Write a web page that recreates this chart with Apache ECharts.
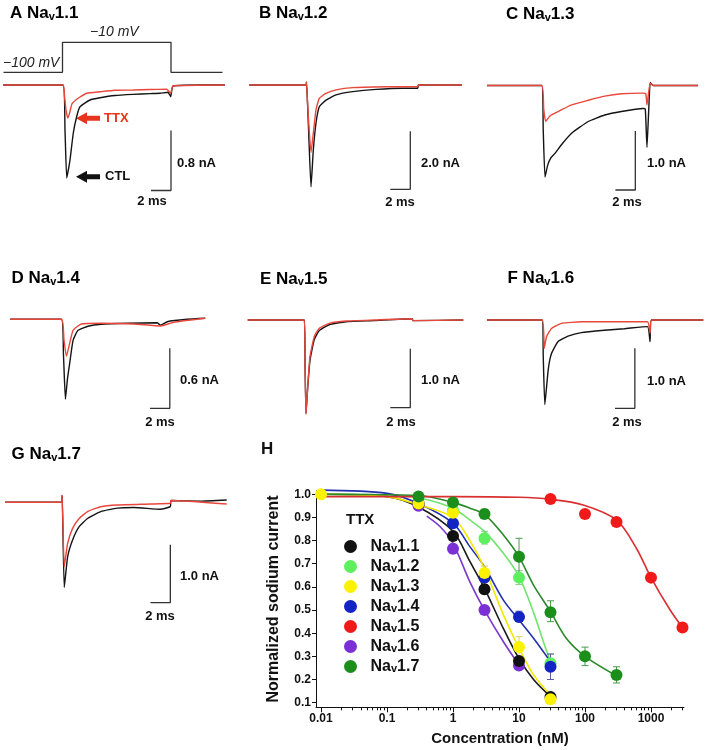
<!DOCTYPE html>
<html><head><meta charset="utf-8">
<script src="https://cdn.jsdelivr.net/npm/echarts@6/dist/echarts.min.js"></script>
<style>html,body{margin:0;padding:0;background:#fff}#c{width:709px;height:750px}</style>
</head><body><div id="c"></div>
<script>
const FONT = '"Liberation Sans", Arial, Helvetica, sans-serif';

// ---------- Panels A-G: current traces (time in ms from step onset, current in nA) ----------
const panelLetters = ['A','B','C','D','E','F','G'];
const panelIsoforms = ['1.1','1.2','1.3','1.4','1.5','1.6','1.7'];
const scaleNa = [0.8, 2.0, 1.0, 0.6, 1.0, 1.0, 1.0];
const scaleMs = 2;

const ctlA = [[-5.95,0],[0.05,0],[0.25,-0.6],[0.42,-1.24],[0.6,-1.12],[0.75,-1.0],[1.08,-0.64],[1.42,-0.42],[1.75,-0.29],[2.75,-0.2],[3.75,-0.17],[5.25,-0.14],[7.05,-0.125],[8.75,-0.115],[9.75,-0.11],[10.55,-0.097],[10.82,-0.156],[11.05,-0.013],[13.75,0],[16.25,0]];
const ttxA = [[-5.95,0],[0.05,0],[0.2,-0.15],[0.35,-0.33],[0.52,-0.44],[0.7,-0.38],[0.95,-0.25],[1.42,-0.19],[1.75,-0.16],[2.42,-0.11],[3.75,-0.09],[5.25,-0.07],[7.05,-0.067],[8.75,-0.06],[10.42,-0.057],[10.82,-0.11],[11.05,-0.013],[16.25,0]];
const ctlB = [[-5.67,0],[0,0],[0.05,0.1],[0.15,-0.6],[0.27,-1.66],[0.5,-3.51],[0.73,-2.25],[1.0,-1.31],[1.33,-0.75],[2.0,-0.52],[3.0,-0.34],[4.67,-0.23],[7.0,-0.15],[9.67,-0.11],[11.17,-0.11],[11.25,0],[15.6,0]];
const ttxB = [[-5.67,0],[0,0],[0.05,0.1],[0.15,-0.6],[0.27,-1.3],[0.5,-2.33],[0.73,-1.66],[1.0,-0.86],[1.33,-0.46],[2.0,-0.29],[3.0,-0.17],[4.67,-0.09],[8.0,-0.06],[11.17,-0.05],[11.25,0],[15.6,0]];
const ctlC = [[-5.5,0],[0,0],[0.15,-0.75],[0.33,-1.55],[0.6,-1.35],[0.9,-1.23],[1.33,-1.15],[2.0,-1.0],[3.0,-0.81],[4.67,-0.61],[6.33,-0.5],[8.0,-0.44],[10.17,-0.39],[10.4,-0.4],[10.57,-1.05],[10.75,-0.4],[10.9,0.05],[11.2,0],[15.7,0]];
const ttxC = [[-5.5,0],[0,0],[0.2,-0.4],[0.4,-0.61],[0.8,-0.52],[1.33,-0.47],[3.0,-0.33],[4.67,-0.25],[6.33,-0.18],[8.0,-0.14],[10.17,-0.13],[10.45,-0.14],[10.57,-0.33],[10.75,-0.1],[10.9,0.04],[11.2,0],[15.7,0]];
const ctlD = [[-5.17,0],[0,0],[0.2,-0.35],[0.4,-0.8],[0.6,-0.6],[0.83,-0.44],[1.17,-0.21],[1.67,-0.11],[2.67,-0.07],[4.0,-0.05],[6.67,-0.04],[9.67,-0.035],[10.0,-0.06],[10.67,-0.024],[12.67,0],[14.5,0.01]];
const ttxD = [[-5.17,0],[0,0],[0.25,-0.2],[0.5,-0.37],[0.83,-0.24],[1.17,-0.11],[2.0,-0.047],[4.0,-0.04],[7.33,-0.047],[10.0,-0.067],[11.33,-0.03],[14.5,0.01]];
const ctlE = [[-5.66,0],[0,0],[0.08,-0.8],[0.17,-1.58],[0.34,-1.15],[0.57,-0.68],[1.0,-0.33],[1.5,-0.18],[2.5,-0.08],[4.17,-0.03],[7.0,-0.01],[10.8,0.02],[10.85,-0.01],[15.9,0]];
const ttxE = [[-5.66,0],[0,0],[0.08,-0.8],[0.17,-1.6],[0.34,-1.13],[0.57,-0.62],[1.0,-0.28],[1.5,-0.14],[2.5,-0.056],[4.17,-0.017],[7.0,0],[10.8,0.02],[10.85,-0.01],[15.9,0]];
const ctlF = [[-5.57,0],[0,0],[0.1,-0.6],[0.26,-1.41],[0.6,-0.83],[0.93,-0.56],[1.6,-0.36],[2.6,-0.27],[3.93,-0.21],[6.26,-0.17],[8.26,-0.145],[10.6,-0.11],[10.86,-0.36],[11.0,0],[16.23,0]];
const ttxF = [[-5.57,0],[0,0],[0.2,-0.47],[0.43,-0.28],[0.93,-0.14],[1.93,-0.056],[4.0,-0.03],[10.6,-0.03],[10.86,-0.22],[11.0,0],[16.23,0]];
const ctlG = [[-5.67,0],[0,0],[0.05,0.12],[0.26,-1.47],[0.6,-0.94],[1.1,-0.65],[1.76,-0.42],[2.6,-0.28],[3.93,-0.16],[5.6,-0.1],[7.26,-0.09],[9.93,-0.12],[10.93,-0.075],[11.0,0.03],[13.93,0.02],[16.6,0.04]];
const ttxG = [[-5.67,0],[0,0],[0.05,0.12],[0.26,-1.11],[0.6,-0.71],[1.1,-0.45],[1.76,-0.28],[2.6,-0.16],[3.93,-0.076],[5.6,-0.047],[8.93,-0.03],[10.93,-0.017],[11.0,0.03],[16.6,-0.03]];
const ctlTraces = [ctlA, ctlB, ctlC, ctlD, ctlE, ctlF, ctlG];
const ttxTraces = [ttxA, ttxB, ttxC, ttxD, ttxE, ttxF, ttxG];

// voltage protocol (panel A)
const stepTimes  = [-5.9, 0, 0, 10.85, 10.85, 16.0];
const stepLevels = [-100, -100, -10, -10, -100, -100];
const stepLabels = ['\u2212100 mV', '\u221210 mV'];

// ---------- Panel H: concentration-response ----------
const isoforms = ['Nav1.1','Nav1.2','Nav1.3','Nav1.4','Nav1.5','Nav1.6','Nav1.7'];
const conc11 = [0.3, 1, 3, 10, 30];          const val11 = [0.96, 0.82, 0.59, 0.28, 0.125];
const conc12 = [1, 3, 10, 30];               const val12 = [0.93, 0.81, 0.64, 0.27];
const conc13 = [0.01, 0.3, 1, 3, 10, 30];    const val13 = [1.0, 0.96, 0.92, 0.66, 0.34, 0.115];
const conc14 = [0.3, 1, 3, 10, 30];          const val14 = [0.96, 0.875, 0.64, 0.47, 0.255];
const conc15 = [30, 100, 300, 1000, 3000];   const val15 = [0.98, 0.915, 0.88, 0.64, 0.425];
const conc16 = [0.3, 1, 3, 10];              const val16 = [0.95, 0.765, 0.50, 0.26];
const conc17 = [0.3, 1, 3, 10, 30, 100, 300];const val17 = [0.99, 0.965, 0.915, 0.73, 0.49, 0.30, 0.22];
// error bars: [concentration, low, high]
const err11 = [[3, 0.57, 0.61], [10, 0.27, 0.295]];
const err12 = [[3, 0.785, 0.84], [10, 0.61, 0.67], [30, 0.24, 0.31]];
const err13 = [[3, 0.64, 0.69], [10, 0.30, 0.385]];
const err14 = [[3, 0.62, 0.66], [10, 0.45, 0.495], [30, 0.20, 0.31]];
const err15 = [];
const err16 = [[1, 0.745, 0.785], [3, 0.49, 0.51], [10, 0.25, 0.27]];
const err17 = [[3, 0.90, 0.935], [10, 0.65, 0.81], [30, 0.45, 0.54], [100, 0.26, 0.34], [300, 0.185, 0.255]];
// fitted curves
const fitC11 = [0.01, 0.1, 0.3, 1, 1.8, 3, 5.8, 10, 16.6, 30];            const fitV11 = [1.0, 0.99, 0.945, 0.84, 0.71, 0.594, 0.42, 0.29, 0.2, 0.126];
const fitC12 = [0.01, 0.1, 0.3, 1, 1.8, 3, 5.8, 10, 16.6, 23.4, 30];      const fitV12 = [1.0, 0.997, 0.985, 0.94, 0.889, 0.84, 0.745, 0.645, 0.49, 0.363, 0.277];
const fitC13 = [0.01, 0.1, 0.3, 1, 1.8, 3, 5.8, 10, 16.6, 30];            const fitV13 = [1.0, 0.99, 0.955, 0.9, 0.8, 0.68, 0.479, 0.335, 0.22, 0.133];
const fitC14 = [0.01, 0.1, 0.3, 1, 1.8, 3, 5.8, 10, 16.6, 30];            const fitV14 = [1.018, 1.004, 0.96, 0.875, 0.774, 0.687, 0.543, 0.457, 0.378, 0.277];
const fitC15 = [0.01, 1, 10, 30, 94, 300, 600, 1000, 1950, 3000];        const fitV15 = [0.99, 0.99, 0.987, 0.978, 0.954, 0.889, 0.767, 0.64, 0.5, 0.424];
const fitC16 = [0.4, 0.64, 1, 1.8, 3, 5.8, 10];                           const fitV16 = [0.906, 0.86, 0.788, 0.622, 0.5, 0.363, 0.263];
const fitC17 = [0.01, 0.3, 1, 1.8, 3, 5.8, 10, 16.6, 30, 52, 100, 300];  const fitV17 = [1.0, 0.995, 0.965, 0.94, 0.913, 0.824, 0.73, 0.608, 0.493, 0.378, 0.3, 0.216];

const xTickValues = [0.01, 0.1, 1, 10, 100, 1000];
const xTickLabels = ['0.01', '0.1', '1', '10', '100', '1000'];
const yTickValues = [0.1, 0.2, 0.3, 0.4, 0.5, 0.6, 0.7, 0.8, 0.9, 1.0];
const yTitle = 'Normalized sodium current';
const xTitle = 'Concentration (nM)';

// ---------- styles / layout ----------
const CTL_COLOR = '#141414', TTX_COLOR = '#e8473a', BAR_COLOR = '#333';
const ptColors  = ['#111111', '#5def5d', '#fbf200', '#1424c4', '#f01a1a', '#7a30d4', '#1c8e1c'];
const lnColors  = ['#1a1a1a', '#6fe46f', '#f2e800', '#2330b0', '#d83030', '#7a38cc', '#2a8a2a'];
const errColors = ['#444', '#7fcf7f', '#d8d060', '#5a5a9e', '#d05050', '#8a68c0', '#4a9a4a'];

const layout = [
  {onset: 62.5,  base: 85,    k: 75,  bar: [171, 190.5],   na: [177, 163],   ms: [152, 201.7], title: [10, 17.3]},
  {onset: 306,   base: 85,    k: 29,  bar: [410.3, 189.3], na: [421, 163],   ms: [400, 202],   title: [259, 17.3]},
  {onset: 542,   base: 85.5,  k: 59,  bar: [636, 190],     na: [647, 163],   ms: [627, 202],   title: [506, 18.3]},
  {onset: 60,    base: 319.3, k: 100, bar: [169.3, 408.3], na: [180, 380.7], ms: [160, 422.7], title: [11.5, 282.3]},
  {onset: 304.3, base: 320,   k: 59,  bar: [410.3, 407.7], na: [421, 380.7], ms: [401, 422.7], title: [260, 282.7]},
  {onset: 542.7, base: 320,   k: 60,  bar: [636, 408.3],   na: [647, 381.7], ms: [627, 422.7], title: [507.5, 282.3]},
  {onset: 60.7,  base: 502.3, k: 58,  bar: [170, 602.7],   na: [180, 576.7], ms: [160, 616.7], title: [11.5, 458]}
];
const PX_PER_MS = 10;

const grids = [], xAxes = [], yAxes = [], series = [], graphics = [];

const richTitle = {
  t: {fontFamily: FONT, fontSize: 17, fontWeight: 'bold', color: '#111', lineHeight: 22, verticalAlign: 'bottom'},
  s: {fontFamily: FONT, fontSize: 11, fontWeight: 'bold', color: '#111', lineHeight: 10, verticalAlign: 'bottom'}
};

layout.forEach((L, i) => {
  const left = L.onset - 62, width = 230, top = L.base - 25, height = 135;
  const xmin = -62 / PX_PER_MS;
  grids.push({left, top, width, height});
  xAxes.push({type: 'value', gridIndex: i, min: xmin, max: xmin + width / PX_PER_MS, show: false});
  yAxes.push({type: 'value', gridIndex: i, min: -(height - 25) / L.k, max: 25 / L.k, show: false});
  series.push({type: 'line', xAxisIndex: i, yAxisIndex: i, data: ctlTraces[i], symbol: 'none', clip: false, smooth: 0.15,
               lineStyle: {color: CTL_COLOR, width: 1.4}, z: 2, silent: true});
  series.push({type: 'line', xAxisIndex: i, yAxisIndex: i, data: ttxTraces[i], symbol: 'none', clip: false, smooth: 0.15,
               lineStyle: {color: TTX_COLOR, width: 1.4}, z: 3, silent: true});
  // scale bar, in data units (2 ms, scaleNa nA)
  const t1 = (L.bar[0] - L.onset) / PX_PER_MS, i1 = -(L.bar[1] - L.base) / L.k;
  series.push({type: 'line', xAxisIndex: i, yAxisIndex: i, symbol: 'none', clip: false, silent: true,
               data: [[t1 - scaleMs, i1], [t1, i1], [t1, i1 + scaleNa[i]]],
               lineStyle: {color: BAR_COLOR, width: 1.3}});
  graphics.push({type: 'text', x: L.na[0], y: L.na[1], style: {text: scaleNa[i].toFixed(1) + ' nA', font: 'bold 13px ' + FONT, fill: '#111', verticalAlign: 'middle'}});
  graphics.push({type: 'text', x: L.ms[0], y: L.ms[1], style: {text: scaleMs + ' ms', font: 'bold 13px ' + FONT, fill: '#111', align: 'center', verticalAlign: 'middle'}});
  graphics.push({type: 'text', x: L.title[0], y: L.title[1] - 17, style: {
    text: '{t|' + panelLetters[i] + ' Na}{s|v}{t|' + panelIsoforms[i] + '}', rich: richTitle, verticalAlign: 'top'}});
});

// voltage step grid (index 7)
{
  const L = layout[0];
  const left = L.onset - 62, width = 230, xmin = -62 / PX_PER_MS;
  grids.push({left, top: 37.3, width, height: 40});
  xAxes.push({type: 'value', gridIndex: 7, min: xmin, max: xmin + width / PX_PER_MS, show: false});
  yAxes.push({type: 'value', gridIndex: 7, min: -115, max: 5, show: false});
  series.push({type: 'line', xAxisIndex: 7, yAxisIndex: 7, symbol: 'none', clip: false, silent: true,
               data: stepTimes.map((t, j) => [t, stepLevels[j]]), lineStyle: {color: '#333', width: 1.3}});
  graphics.push({type: 'text', x: 3, y: 63, style: {text: stepLabels[0], font: 'italic 14px ' + FONT, fill: '#222', verticalAlign: 'middle'}});
  graphics.push({type: 'text', x: 90, y: 32, style: {text: stepLabels[1], font: 'italic 14px ' + FONT, fill: '#222', verticalAlign: 'middle'}});
  // TTX / CTL arrows
  const arrow = (tipX, y, color) => ({type: 'polygon', shape: {points: [[tipX, y], [tipX + 11, y - 6], [tipX + 11, y - 2.5], [tipX + 24, y - 2.5], [tipX + 24, y + 2.5], [tipX + 11, y + 2.5], [tipX + 11, y + 6]]}, style: {fill: color}});
  graphics.push(arrow(76, 118.3, '#e8341c'));
  graphics.push(arrow(76, 176.7, '#111'));
  graphics.push({type: 'text', x: 104, y: 118.3, style: {text: 'TTX', font: 'bold 13px ' + FONT, fill: '#e8341c', verticalAlign: 'middle'}});
  graphics.push({type: 'text', x: 105, y: 176.7, style: {text: 'CTL', font: 'bold 13px ' + FONT, fill: '#111', verticalAlign: 'middle'}});
}

// ---------- Panel H (grid 8, xAxis 8 major + 9 minor, yAxis 8) ----------
const minorMult = [2, 3, 4, 5, 6, 7, 8, 9];
const xMinor = [];
for (let d = -2; d <= 3; d++) minorMult.forEach(m => { const v = Math.log10(m) + d; if (v <= 3.5) xMinor.push(v); });
const XMIN = -2.076, XMAX = 3.5;
grids.push({left: 316, top: 490.8, width: 368, height: 216.5});
const axisFont = {fontFamily: FONT, fontSize: 12, fontWeight: 'bold', color: '#111'};
xAxes.push({type: 'value', gridIndex: 8, min: XMIN, max: XMAX, position: 'bottom',
  axisLine: {show: true, onZero: false, lineStyle: {color: '#111', width: 1}},
  axisTick: {show: true, length: 5, customValues: xTickValues.map(Math.log10), lineStyle: {color: '#111'}},
  axisLabel: {show: true, customValues: xTickValues.map(Math.log10), margin: 5, ...axisFont,
              formatter: v => xTickLabels[Math.round(v) + 2]},
  splitLine: {show: false},
  name: xTitle, nameLocation: 'middle', nameGap: 24,
  nameTextStyle: {fontFamily: FONT, fontSize: 15, fontWeight: 'bold', color: '#111'}});
xAxes.push({type: 'value', gridIndex: 8, min: XMIN, max: XMAX, position: 'bottom',
  axisLine: {show: false, onZero: false}, axisLabel: {show: false}, splitLine: {show: false},
  axisTick: {show: true, length: 3, customValues: xMinor, lineStyle: {color: '#111'}}});
yAxes.push({type: 'value', gridIndex: 8, min: 0.08, max: 1.015, position: 'left',
  axisLine: {show: true, onZero: false, lineStyle: {color: '#111', width: 1}},
  axisTick: {show: true, length: 4, customValues: yTickValues, lineStyle: {color: '#111'}},
  axisLabel: {show: true, customValues: yTickValues, margin: 5, ...axisFont, formatter: v => v.toFixed(1)},
  splitLine: {show: false},
  name: yTitle, nameLocation: 'middle', nameGap: 34, nameRotate: 90,
  nameTextStyle: {fontFamily: FONT, fontSize: 16, fontWeight: 'bold', color: '#111'}});

const concs = [conc11, conc12, conc13, conc14, conc15, conc16, conc17];
const vals  = [val11, val12, val13, val14, val15, val16, val17];
const errs  = [err11, err12, err13, err14, err15, err16, err17];
const fitCs = [fitC11, fitC12, fitC13, fitC14, fitC15, fitC16, fitC17];
const fitVs = [fitV11, fitV12, fitV13, fitV14, fitV15, fitV16, fitV17];
const drawOrder = [1, 3, 5, 0, 2, 6, 4];

drawOrder.forEach(i => {
  series.push({type: 'line', name: 'fit ' + isoforms[i], xAxisIndex: 8, yAxisIndex: 8, smooth: 0.3,
    symbol: 'none', clip: false, silent: true, z: 2,
    data: fitCs[i].map((c, j) => [Math.log10(c), fitVs[i][j]]), lineStyle: {color: lnColors[i], width: 1.6}});
});
drawOrder.forEach(i => {
  const col = errColors[i];
  series.push({type: 'custom', name: 'err ' + isoforms[i], xAxisIndex: 8, yAxisIndex: 8, z: 3, silent: true,
    data: errs[i].map(e => [Math.log10(e[0]), e[1], e[2]]),
    encode: {x: 0, y: [1, 2]},
    renderItem: (params, api) => {
      const p1 = api.coord([api.value(0), api.value(1)]);
      const p2 = api.coord([api.value(0), api.value(2)]);
      const st = {stroke: col, lineWidth: 1};
      return {type: 'group', children: [
        {type: 'line', shape: {x1: p1[0], y1: p1[1], x2: p2[0], y2: p2[1]}, style: st},
        {type: 'line', shape: {x1: p1[0] - 3.5, y1: p1[1], x2: p1[0] + 3.5, y2: p1[1]}, style: st},
        {type: 'line', shape: {x1: p2[0] - 3.5, y1: p2[1], x2: p2[0] + 3.5, y2: p2[1]}, style: st}
      ]};
    }});
});
drawOrder.forEach(i => {
  series.push({type: 'scatter', name: isoforms[i], xAxisIndex: 8, yAxisIndex: 8, z: 4, symbol: 'circle', symbolSize: 12,
    data: concs[i].map((c, j) => [Math.log10(c), vals[i][j]]), itemStyle: {color: ptColors[i], opacity: 1}});
});

graphics.push({type: 'text', x: 261, y: 458 - 17, style: {text: 'H', font: 'bold 17px ' + FONT, fill: '#111', verticalAlign: 'top'}});
graphics.push({type: 'text', x: 346, y: 520, style: {text: 'TTX', font: 'bold 15px ' + FONT, fill: '#111', verticalAlign: 'middle'}});

const option = {
  animation: false,
  backgroundColor: '#fff',
  grid: grids, xAxis: xAxes, yAxis: yAxes, series,
  legend: {
    orient: 'vertical', left: 339, top: 533.5, itemWidth: 30, itemHeight: 13, itemGap: 4,
    selectedMode: false, icon: 'circle',
    data: isoforms.map((n, i) => ({name: n, icon: 'circle', itemStyle: {color: ptColors[i]}})),
    formatter: n => '{a|Na}{s|v}{a|' + n.slice(3) + '}',
    textStyle: {rich: {
      a: {fontFamily: FONT, fontSize: 16, fontWeight: 'bold', color: '#111', lineHeight: 16, verticalAlign: 'bottom'},
      s: {fontFamily: FONT, fontSize: 11, fontWeight: 'bold', color: '#111', lineHeight: 6, verticalAlign: 'bottom'}
    }}
  },
  graphic: graphics
};
const chart = echarts.init(document.getElementById('c'), null, {renderer: 'canvas'});
chart.setOption(option);
</script></body></html>
